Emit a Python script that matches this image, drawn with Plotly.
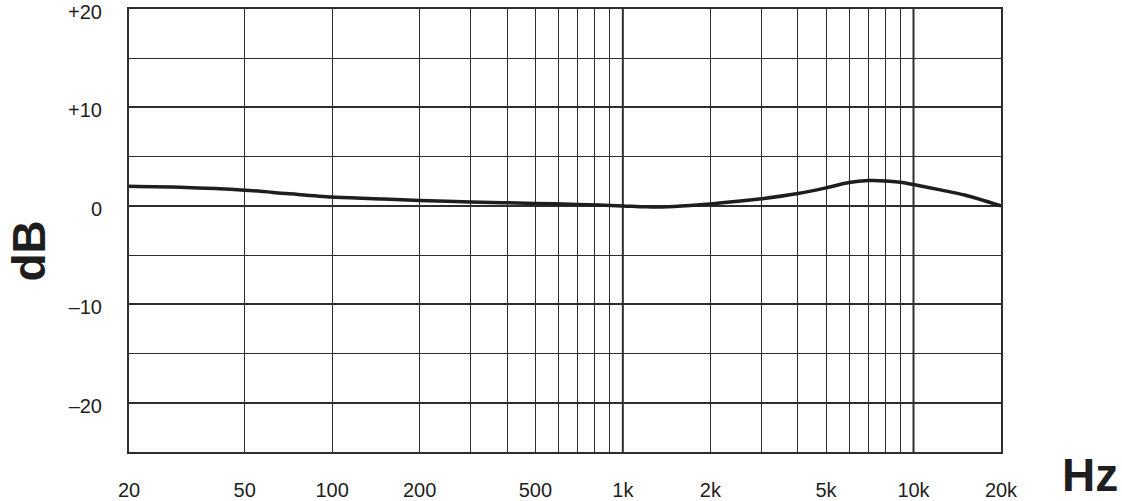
import plotly.graph_objects as go

# frequency response
freq_hz = [20, 30, 50, 70, 100, 150, 200, 300, 500, 700, 1000, 1200, 1500,
           2000, 3000, 4000, 5000, 6000, 7000, 8000, 9000, 10000, 12500,
           15000, 20000]
level_db = [2.0, 1.9, 1.6, 1.25, 0.9, 0.7, 0.55, 0.4, 0.25, 0.15, 0.0, -0.1,
            -0.05, 0.2, 0.72, 1.25, 1.83, 2.37, 2.57, 2.54, 2.4, 2.17, 1.6,
            1.1, 0.0]

x_ticks = [20, 50, 100, 200, 500, 1000, 2000, 5000, 10000, 20000]
x_labels = ["20", "50", "100", "200", "500", "1k", "2k", "5k", "10k", "20k"]
x_minor = [300, 400, 600, 700, 800, 900, 3000, 4000, 6000, 7000, 8000, 9000]
x_heavy = [1000, 10000]

y_ticks = [-20, -10, 0, 10, 20]
y_labels = ["\u201320", "\u201310", "0", "+10", "+20"]
y_minor = [-15, -5, 5, 15]

GRID = "#2e2e2e"
INK = "#1e1e1e"
FONT = "Liberation Sans, Arial, sans-serif"

fig = go.Figure()

fig.add_trace(go.Scatter(
    x=freq_hz,
    y=level_db,
    mode="lines",
    line=dict(color=INK, width=3.5, shape="spline", smoothing=0.8),
    showlegend=False,
    hoverinfo="skip",
))

for f in x_heavy:
    fig.add_shape(type="line", xref="x", yref="paper", x0=f, x1=f, y0=0, y1=1,
                  line=dict(color=GRID, width=2), layer="below")

fig.update_xaxes(
    type="log",
    range=[1.30103, 4.30103],
    tickmode="array",
    tickvals=x_ticks,
    ticktext=x_labels,
    showgrid=True,
    gridcolor=GRID,
    gridwidth=1.2,
    minor=dict(tickmode="array", tickvals=x_minor, showgrid=True,
               gridcolor=GRID, gridwidth=1.2),
    showline=True,
    linecolor=GRID,
    linewidth=2,
    mirror=True,
    ticks="",
    ticklabelstandoff=19,
    ticklabeloverflow="allow",
    tickfont=dict(family=FONT, size=20, color=INK),
    zeroline=False,
    automargin=False,
)

fig.update_yaxes(
    range=[-25, 20],
    tickmode="array",
    tickvals=y_ticks,
    ticktext=y_labels,
    showgrid=True,
    gridcolor=GRID,
    gridwidth=2,
    minor=dict(tickmode="array", tickvals=y_minor, showgrid=True,
               gridcolor=GRID, gridwidth=1.2),
    showline=True,
    linecolor=GRID,
    linewidth=2,
    mirror=True,
    ticks="",
    ticklabelstandoff=21,
    ticklabelshift=3,
    ticklabeloverflow="allow",
    tickfont=dict(family=FONT, size=20, color=INK),
    zeroline=False,
    automargin=False,
)

fig.add_annotation(text="<b>dB</b>", xref="paper", yref="paper",
                   x=-0.115, y=0.454, xanchor="center", yanchor="middle",
                   showarrow=False, textangle=-90,
                   font=dict(family=FONT, size=46, color=INK))
fig.add_annotation(text="<b>Hz</b>", xref="paper", yref="paper",
                   x=1.102, y=-0.052, xanchor="center", yanchor="middle",
                   showarrow=False,
                   font=dict(family=FONT, size=46, color=INK))

fig.update_layout(
    width=1122,
    height=501,
    margin=dict(l=129, r=121, t=9, b=49),
    paper_bgcolor="white",
    plot_bgcolor="white",
)

# the page body has a default 8px margin; drop it so the figure sits at 0,0
fig.write_html("out.html", config={"displayModeBar": False},
               post_script="document.body.style.margin='0';")
